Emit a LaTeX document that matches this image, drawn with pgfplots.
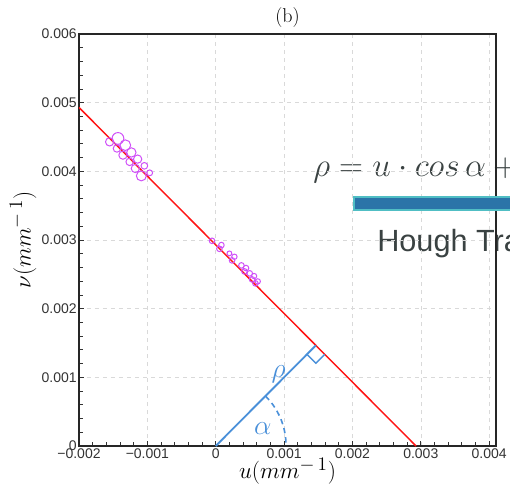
\documentclass[border=0pt]{standalone}
\usepackage{pgfplots}
\pgfplotsset{compat=1.18}
\usepackage{fontspec}
\newfontfamily\sans{Liberation Sans}
\definecolor{redl}{RGB}{255,20,20}
\definecolor{bluel}{RGB}{74,144,217}
\definecolor{markc}{RGB}{208,80,248}
\definecolor{txtg}{RGB}{58,66,66}
\definecolor{barb}{RGB}{43,116,168}
\definecolor{bart}{RGB}{80,190,196}
\pgfplotstableread{
u v s
-0.001552 0.004429 3.1
-0.001430 0.004479 4.4
-0.001445 0.004333 2.8
-0.001322 0.004381 4.0
-0.001357 0.004236 3.1
-0.001234 0.004275 3.5
-0.001259 0.004138 2.8
-0.001142 0.004178 3.1
-0.001176 0.004042 3.1
-0.001044 0.004080 2.5
-0.001088 0.003934 3.75
-0.000966 0.003978 2.2
-0.000054 0.002988 2.1
0.000083 0.002926 2.1
0.000054 0.002872 2.1
0.000200 0.002805 1.8
0.000274 0.002756 2.0
0.000239 0.002703 2.1
0.000376 0.002630 2.1
0.000443 0.002591 2.1
0.000420 0.002543 2.1
0.000498 0.002514 2.1
0.000561 0.002475 2.0
0.000532 0.002426 2.1
0.000615 0.002397 2.0
0.000581 0.002368 2.1
}\pts
\begin{document}
\begin{tikzpicture}
% overlay text (behind axis lines)
\node[anchor=base west, inner sep=0pt, text=txtg, font=\fontsize{27}{31}\selectfont] at (175.5pt,201.75pt) {$\rho = u\cdot cos\,\alpha + v\cdot sin\,\alpha$};
\node[anchor=base west, inner sep=0pt, text=txtg, font=\sans\fontsize{23}{27}\selectfont] at (223.5pt,145.5pt) {Hough Transform};
\begin{axis}[
  at={(0,0)}, anchor=south west,
  scale only axis, width=312.75pt, height=309pt,
  xmin=-0.002, xmax=0.0041, ymin=0, ymax=0.006,
  xtick={-0.002,-0.001,0,0.001,0.002,0.003,0.004},
  xticklabels={−0.002,−0.001,0,0.001,0.002,0.003,0.004},
  ytick={0,0.001,0.002,0.003,0.004,0.005,0.006},
  yticklabels={0,0.001,0.002,0.003,0.004,0.005,0.006},
  scaled ticks=false,
  minor x tick num=4, minor y tick num=4,
  tick align=inside, xtick pos=bottom, ytick pos=left,
  major tick length=4pt, minor tick length=3pt,
  grid=major, major grid style={dashed, gray!30, line width=0.45pt},
  axis line style={black!85, line width=1.1pt},
  tick style={black!80, line width=0.6pt},
  ticklabel style={font=\sans\fontsize{10.5}{12}\selectfont, text=black!80},
  xticklabel style={inner ysep=1.5pt},
  yticklabel style={inner xsep=1.5pt},
  xlabel={$u(mm^{-\,1})$},
  ylabel={$\nu(mm^{-\,1})$},
  xlabel style={font=\fontsize{19}{22}\selectfont, yshift=5pt},
  ylabel style={font=\fontsize{19}{22}\selectfont, yshift=-1pt},
  title={(b)},
  title style={font=\fontsize{15}{18}\selectfont, yshift=-5pt},
]
\addplot[redl, line width=1.1pt] coordinates {(-0.002,0.00493) (0.00293,0)};
\addplot[bluel, line width=1.4pt] coordinates {(0,0) (0.001465,0.001465)};
\addplot[bluel, line width=1pt] coordinates {(0.001335,0.001335) (0.001465,0.001205) (0.001595,0.001335)};
\addplot[bluel, line width=1.2pt, dash pattern=on 4pt off 3pt, smooth] coordinates {
(0.000728,0.000728) (0.000817,0.000627) (0.000892,0.000515) (0.000952,0.000394) (0.000995,0.000267) (0.001021,0.000134) (0.00103,0)};
\addplot[scatter, only marks, mark=o, line width=0.75pt,
  scatter/use mapped color={draw=markc, fill=none},
  visualization depends on={\thisrow{s} \as \msz},
  scatter/@pre marker code/.append style={/tikz/mark size=\msz}]
  table[x=u, y=v] {\pts};
\node[text=bluel, font=\fontsize{20}{24}\selectfont] at (axis cs:0.00092,0.00105) {$\rho$};
\node[text=bluel, font=\fontsize{20}{24}\selectfont] at (axis cs:0.00069,0.00026) {$\alpha$};
\end{axis}
\fill[barb, draw=bart, line width=1.2pt] (206.25pt,177pt) rectangle (400pt,186.75pt);
\pgfresetboundingbox
\useasboundingbox (-59.25pt,-32.25pt) rectangle (323.25pt,334.5pt);
\end{tikzpicture}
\end{document}
